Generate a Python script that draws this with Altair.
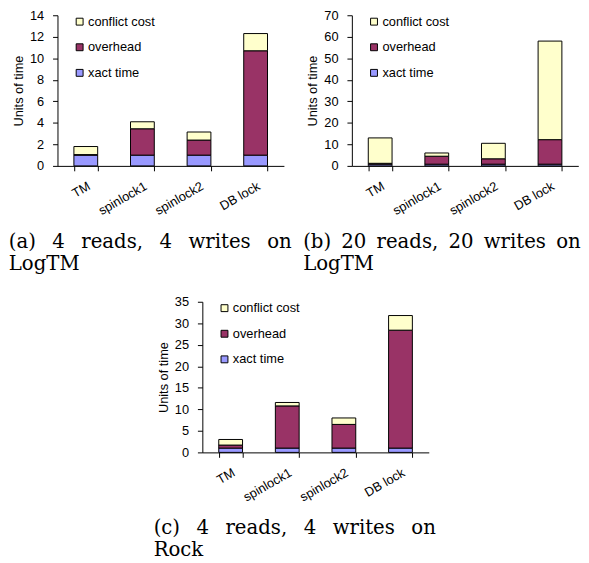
import altair as alt
import pandas as pd

categories = ["TM", "spinlock1", "spinlock2", "DB lock"]
series_legend = ["conflict cost", "overhead", "xact time"]
series_colors = ["#FFFFCC", "#993366", "#9999FF"]
stack_order = {"xact time": 0, "overhead": 1, "conflict cost": 2}

# (a) 4 reads, 4 writes on LogTM
a_xact = [1.0, 1.0, 1.0, 1.0]
a_overhead = [0.05, 2.45, 1.4, 9.7]
a_conflict = [0.75, 0.65, 0.75, 1.6]

# (b) 20 reads, 20 writes on LogTM
b_xact = [0.8, 0.8, 0.8, 0.8]
b_overhead = [0.4, 3.7, 2.5, 11.4]
b_conflict = [11.8, 1.5, 7.2, 45.8]

# (c) 4 reads, 4 writes on Rock
c_xact = [1.0, 1.0, 1.0, 1.0]
c_overhead = [0.7, 9.8, 5.5, 27.4]
c_conflict = [1.3, 0.8, 1.5, 3.4]

NB = "\u00a0"
TH = "\u2009"
G1 = NB * 2 + TH
G2 = NB + TH
cap_a = ["(a)" + G1 + "4" + G1 + "reads," + G1 + "4" + G1 + "writes" + G1 + "on", "LogTM"]
cap_b = ["(b)" + G2 + "20" + G2 + "reads," + G2 + "20" + G2 + "writes" + G2 + "on", "LogTM"]
cap_c = ["(c)" + G1 + "4" + G1 + "reads," + G1 + "4" + G1 + "writes" + G1 + "on", "Rock"]


def make_df(xact, overhead, conflict):
    rows = []
    for i, cat in enumerate(categories):
        for name, vals in (("xact time", xact), ("overhead", overhead), ("conflict cost", conflict)):
            rows.append({"cat": cat, "series": name, "value": vals[i], "ord": stack_order[name]})
    return pd.DataFrame(rows)


def panel(xact, overhead, conflict, ymax, ystep, caption):
    df = make_df(xact, overhead, conflict)
    ticks = list(range(0, ymax + 1, ystep))
    return (
        alt.Chart(df)
        .mark_bar(stroke="black", strokeWidth=1)
        .encode(
            x=alt.X(
                "cat:N",
                sort=categories,
                scale=alt.Scale(paddingInner=0.58, paddingOuter=0.29),
                axis=alt.Axis(
                    title=None,
                    labelAngle=-30,
                    tickBand="extent",
                    labelPadding=9,
                    tickSize=5,
                ),
            ),
            y=alt.Y(
                "value:Q",
                stack="zero",
                scale=alt.Scale(domain=[0, ymax], nice=False),
                axis=alt.Axis(
                    values=ticks,
                    grid=False,
                    title="Units of time",
                    tickSize=5,
                    labelPadding=9,
                    titlePadding=4,
                ),
            ),
            color=alt.Color(
                "series:N",
                scale=alt.Scale(domain=series_legend, range=series_colors),
                legend=alt.Legend(
                    title=None,
                    orient="none",
                    legendX=16,
                    legendY=0,
                    symbolType="square",
                    symbolSize=49,
                    symbolStrokeColor="black",
                    symbolStrokeWidth=1,
                    labelFont="Liberation Sans",
                    labelFontSize=13,
                    labelOffset=2,
                    rowPadding=12,
                ),
            ),
            order=alt.Order("ord:Q"),
        )
        .properties(
            width=230,
            height=153,
            title=alt.TitleParams(
                text=caption,
                orient="bottom",
                anchor="start",
                frame="bounds",
                font="DejaVu Serif",
                fontSize=20,
                fontWeight="normal",
                color="black",
                lineHeight=22,
                offset=15,
                dx=-4,
            ),
        )
    )


pa = panel(a_xact, a_overhead, a_conflict, 14, 2, cap_a)
pb = panel(b_xact, b_overhead, b_conflict, 70, 10, cap_b)
pc = panel(c_xact, c_overhead, c_conflict, 35, 5, cap_c)

top = alt.hconcat(pa, pb, spacing=11).resolve_scale(color="independent", x="independent", y="independent")
chart = (
    alt.vconcat(top, pc, spacing=22, center=True)
    .resolve_scale(color="independent", x="independent", y="independent")
    .properties(padding={"left": 0, "top": -3, "right": 0, "bottom": 0})
    .configure_view(stroke=None)
    .configure_axis(
        domainColor="black",
        tickColor="black",
        labelColor="black",
        titleColor="black",
        labelFont="Liberation Sans",
        titleFont="Liberation Sans",
        labelFontSize=13,
        titleFontSize=13,
        titleFontWeight="normal",
    )
)

chart.save("out.html", embed_options={"renderer": "svg", "actions": False})
